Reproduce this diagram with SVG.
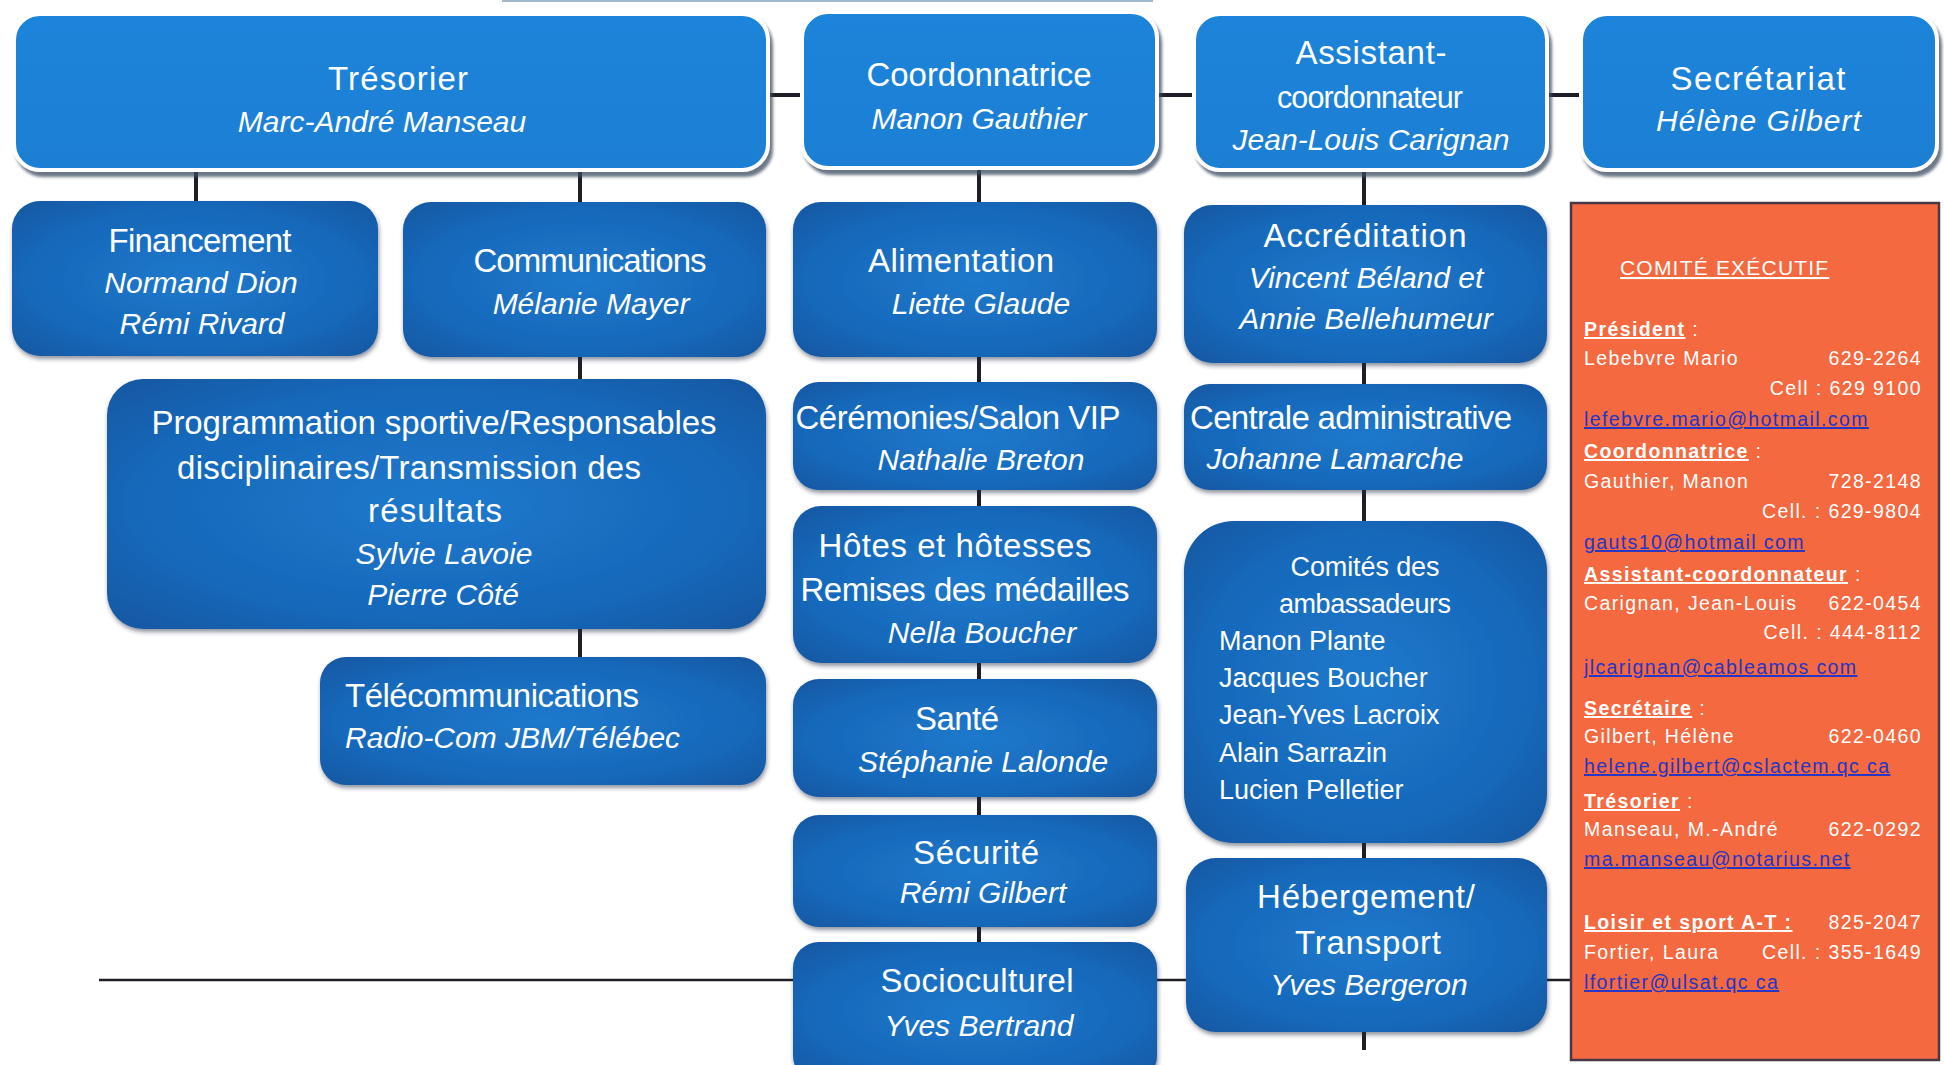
<svg xmlns="http://www.w3.org/2000/svg" width="1944" height="1065" viewBox="0 0 1944 1065">
<defs>
<radialGradient id="gSub" cx="50%" cy="50%" r="65%">
<stop offset="0" stop-color="#1c79cc"/>
<stop offset="0.7" stop-color="#1868ba"/>
<stop offset="1" stop-color="#125aa6"/>
</radialGradient>
<linearGradient id="gTop" x1="0" y1="0" x2="0" y2="1">
<stop offset="0" stop-color="#1a84da"/>
<stop offset="1" stop-color="#1b7fd4"/>
</linearGradient>
<filter id="shTop" x="-5%" y="-10%" width="110%" height="125%">
<feDropShadow dx="3" dy="5" stdDeviation="1.5" flood-color="#3a4a60" flood-opacity="0.75"/>
</filter>
<filter id="shSub" x="-5%" y="-10%" width="110%" height="125%">
<feDropShadow dx="1" dy="3" stdDeviation="2" flood-color="#1a2a40" flood-opacity="0.5"/>
</filter>
</defs>
<style>
.top{fill:url(#gTop);stroke:#ffffff;stroke-width:4;filter:url(#shTop)}
.sub{fill:url(#gSub);filter:url(#shSub)}
.t{font-family:"Liberation Sans",Arial,sans-serif;font-size:33px;fill:#ffffff;text-anchor:middle}
.n{font-style:italic;font-size:30px}
.l{text-anchor:start}
.c{font-family:"Liberation Sans",Arial,sans-serif;font-size:27px;fill:#ffffff}
.o{font-family:"Liberation Sans",Arial,sans-serif;font-size:19.5px;fill:#ffffff;letter-spacing:1.4px}
.h{font-weight:bold;text-decoration:underline}
.m{fill:#2236c8;text-decoration:underline}
.r{text-anchor:end}
.ln{stroke:#1e1e28;stroke-width:4;fill:none}
</style>
<rect width="1944" height="1065" fill="#ffffff"/>
<line x1="502" y1="1" x2="1153" y2="1" stroke="#9fb8cc" stroke-width="2"/>

<g id="connectors">
<line class="ln" x1="768" y1="95" x2="1581" y2="95"/>
<line class="ln" x1="196" y1="170" x2="196" y2="203"/>
<line class="ln" x1="580" y1="170" x2="580" y2="204"/>
<line class="ln" x1="979" y1="168" x2="979" y2="204"/>
<line class="ln" x1="1364" y1="170" x2="1364" y2="207"/>
<line class="ln" x1="580" y1="355" x2="580" y2="381"/>
<line class="ln" x1="979" y1="355" x2="979" y2="384"/>
<line class="ln" x1="1364" y1="361" x2="1364" y2="386"/>
<line class="ln" x1="580" y1="627" x2="580" y2="659"/>
<line class="ln" x1="979" y1="488" x2="979" y2="508"/>
<line class="ln" x1="1364" y1="488" x2="1364" y2="523"/>
<line class="ln" x1="979" y1="661" x2="979" y2="681"/>
<line class="ln" x1="979" y1="795" x2="979" y2="817"/>
<line class="ln" x1="979" y1="925" x2="979" y2="944"/>
<line class="ln" x1="1364" y1="841" x2="1364" y2="860"/>
<line class="ln" x1="1364" y1="1030" x2="1364" y2="1050"/>
<line x1="99" y1="980" x2="1575" y2="980" stroke="#1e1e28" stroke-width="2.5"/>
</g>

<g id="tresorier">
<rect class="top" x="14" y="14" width="754" height="156" rx="26"/>
<text class="t" x="398" y="90" textLength="140">Trésorier</text>
<text class="t n" x="382" y="132">Marc-André Manseau</text>
</g>
<g id="coordonnatrice">
<rect class="top" x="802" y="12" width="355" height="156" rx="26"/>
<text class="t" x="979" y="86" textLength="225">Coordonnatrice</text>
<text class="t n" x="979" y="129">Manon Gauthier</text>
</g>
<g id="assistant">
<rect class="top" x="1194" y="14" width="353" height="156" rx="26"/>
<text class="t" x="1371" y="64" textLength="151">Assistant-</text>
<text class="t" x="1370" y="108" style="font-size:30.5px" textLength="186">coordonnateur</text>
<text class="t n" x="1371" y="150">Jean-Louis Carignan</text>
</g>
<g id="secretariat">
<rect class="top" x="1581" y="14" width="356" height="156" rx="26"/>
<text class="t" x="1758" y="90" textLength="175">Secrétariat</text>
<text class="t n" x="1759" y="131" style="letter-spacing:1px">Hélène Gilbert</text>
</g>

<g id="financement">
<rect class="sub" x="12" y="201" width="366" height="155" rx="28"/>
<text class="t" x="200" y="252" textLength="183">Financement</text>
<text class="t n" x="201" y="293">Normand Dion</text>
<text class="t n" x="202" y="334">Rémi Rivard</text>
</g>
<g id="communications">
<rect class="sub" x="403" y="202" width="363" height="155" rx="28"/>
<text class="t" x="590" y="272" textLength="233">Communications</text>
<text class="t n" x="591" y="314">Mélanie Mayer</text>
</g>
<g id="alimentation">
<rect class="sub" x="793" y="202" width="364" height="155" rx="28"/>
<text class="t" x="961" y="272" textLength="186">Alimentation</text>
<text class="t n" x="981" y="314">Liette Glaude</text>
</g>
<g id="accreditation">
<rect class="sub" x="1184" y="205" width="363" height="158" rx="28"/>
<text class="t" x="1365" y="247" textLength="203">Accréditation</text>
<text class="t n" x="1366" y="288">Vincent Béland et</text>
<text class="t n" x="1366" y="329">Annie Bellehumeur</text>
</g>

<g id="programmation">
<rect class="sub" x="107" y="379" width="659" height="250" rx="36"/>
<text class="t" x="434" y="434" textLength="565">Programmation sportive/Responsables</text>
<text class="t" x="409" y="479" textLength="464">disciplinaires/Transmission des</text>
<text class="t" x="435" y="522" textLength="134">résultats</text>
<text class="t n" x="444" y="564">Sylvie Lavoie</text>
<text class="t n" x="443" y="605">Pierre Côté</text>
</g>
<g id="ceremonies">
<rect class="sub" x="793" y="382" width="364" height="108" rx="26"/>
<text class="t" x="958" y="429" textLength="325">Cérémonies/Salon VIP</text>
<text class="t n" x="981" y="470">Nathalie Breton</text>
</g>
<g id="centrale">
<rect class="sub" x="1184" y="384" width="363" height="106" rx="26"/>
<text class="t" x="1351" y="429" textLength="322">Centrale administrative</text>
<text class="t n" x="1335" y="469">Johanne Lamarche</text>
</g>
<g id="telecommunications">
<rect class="sub" x="320" y="657" width="446" height="128" rx="26"/>
<text class="t l" x="345" y="707" textLength="294">Télécommunications</text>
<text class="t n l" x="345" y="748">Radio-Com JBM/Télébec</text>
</g>
<g id="hotes">
<rect class="sub" x="793" y="506" width="364" height="157" rx="28"/>
<text class="t" x="955" y="557" textLength="273">Hôtes et hôtesses</text>
<text class="t" x="965" y="601" textLength="329">Remises des médailles</text>
<text class="t n" x="982" y="643">Nella Boucher</text>
</g>
<g id="sante">
<rect class="sub" x="793" y="679" width="364" height="118" rx="26"/>
<text class="t" x="957" y="730" textLength="84">Santé</text>
<text class="t n" x="983" y="772">Stéphanie Lalonde</text>
</g>
<g id="securite">
<rect class="sub" x="793" y="815" width="364" height="112" rx="26"/>
<text class="t" x="976" y="864" textLength="126">Sécurité</text>
<text class="t n" x="983" y="903">Rémi Gilbert</text>
</g>
<g id="socioculturel">
<rect class="sub" x="793" y="942" width="364" height="140" rx="26"/>
<text class="t" x="977" y="992" textLength="193">Socioculturel</text>
<text class="t n" x="979" y="1036">Yves Bertrand</text>
</g>
<g id="comites">
<rect class="sub" x="1184" y="521" width="363" height="322" rx="50"/>
<text class="c" x="1365" y="576" text-anchor="middle" textLength="149">Comités des</text>
<text class="c" x="1365" y="613" text-anchor="middle" textLength="172">ambassadeurs</text>
<text class="c" x="1219" y="650">Manon Plante</text>
<text class="c" x="1219" y="687">Jacques Boucher</text>
<text class="c" x="1219" y="724">Jean-Yves Lacroix</text>
<text class="c" x="1219" y="762">Alain Sarrazin</text>
<text class="c" x="1219" y="799">Lucien Pelletier</text>
</g>
<g id="hebergement">
<rect class="sub" x="1186" y="858" width="361" height="174" rx="30"/>
<text class="t" x="1366" y="908" textLength="218">Hébergement/</text>
<text class="t" x="1368" y="954" textLength="146">Transport</text>
<text class="t n" x="1369" y="995">Yves Bergeron</text>
</g>

<g id="comite-executif">
<rect x="1571" y="203" width="368" height="857" fill="#f4693f" stroke="#4a3848" stroke-width="2.5"/>
<text class="o" x="1620" y="275" style="font-size:21px;text-decoration:underline;letter-spacing:1.2px">COMITÉ EXÉCUTIF</text>
<text class="o" x="1584" y="336"><tspan class="h">Président</tspan> :</text>
<text class="o" x="1584" y="365">Lebebvre Mario</text>
<text class="o r" x="1922" y="365">629-2264</text>
<text class="o r" x="1922" y="395">Cell : 629 9100</text>
<text class="o m" x="1584" y="426">lefebvre.mario@hotmail.com</text>
<text class="o" x="1584" y="458"><tspan class="h">Coordonnatrice</tspan> :</text>
<text class="o" x="1584" y="488">Gauthier, Manon</text>
<text class="o r" x="1922" y="488">728-2148</text>
<text class="o r" x="1922" y="518">Cell. : 629-9804</text>
<text class="o m" x="1584" y="549">gauts10@hotmail com</text>
<text class="o" x="1584" y="581"><tspan class="h">Assistant-coordonnateur</tspan> :</text>
<text class="o" x="1584" y="610">Carignan, Jean-Louis</text>
<text class="o r" x="1922" y="610">622-0454</text>
<text class="o r" x="1922" y="639">Cell. : 444-8112</text>
<text class="o m" x="1584" y="674">jlcarignan@cableamos com</text>
<text class="o" x="1584" y="715"><tspan class="h">Secrétaire</tspan> :</text>
<text class="o" x="1584" y="743">Gilbert, Hélène</text>
<text class="o r" x="1922" y="743">622-0460</text>
<text class="o m" x="1584" y="773">helene.gilbert@cslactem.qc ca</text>
<text class="o" x="1584" y="808"><tspan class="h">Trésorier</tspan> :</text>
<text class="o" x="1584" y="836">Manseau, M.-André</text>
<text class="o r" x="1922" y="836">622-0292</text>
<text class="o m" x="1584" y="866">ma.manseau@notarius.net</text>
<text class="o" x="1584" y="929"><tspan class="h">Loisir et sport A-T :</tspan></text>
<text class="o r" x="1922" y="929">825-2047</text>
<text class="o" x="1584" y="959">Fortier, Laura</text>
<text class="o r" x="1922" y="959">Cell. : 355-1649</text>
<text class="o m" x="1584" y="989">lfortier@ulsat.qc ca</text>
</g>
</svg>
